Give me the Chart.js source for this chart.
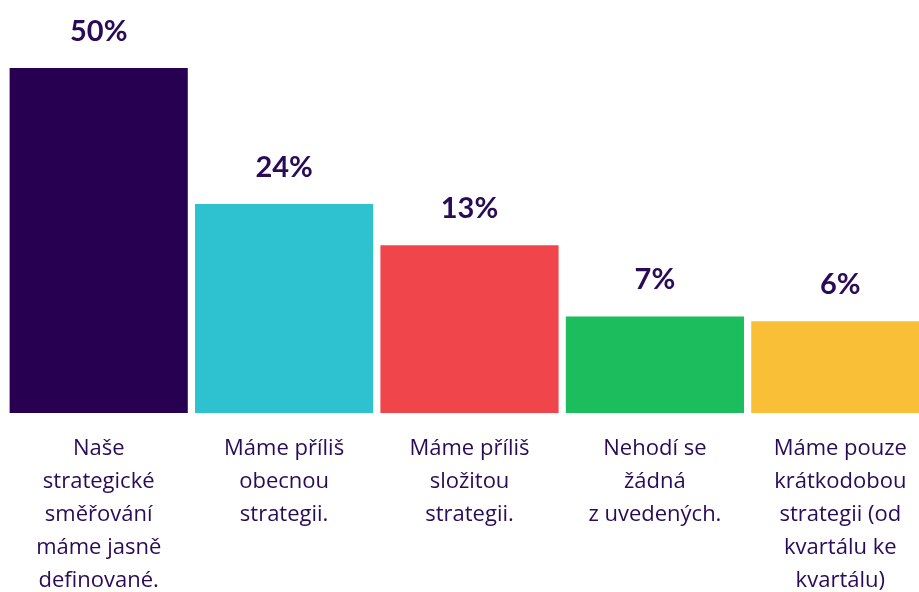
<!DOCTYPE html>
<html>
<head>
<meta charset="utf-8">
<script src="https://cdn.jsdelivr.net/npm/chart.js@4.4.1/dist/chart.umd.min.js"></script>
<style>
  html, body { margin: 0; padding: 0; background: #fff; overflow: hidden; }
  #wrap { width: 940px; height: 616px; }
</style>
</head>
<body>
<div id="wrap"><canvas id="barChart"></canvas></div>
<script>
// category labels (already broken into lines as in the picture)
const categories = [
  ['Naše', 'strategické', 'směřování', 'máme jasně', 'definované.'],
  ['Máme příliš', 'obecnou', 'strategii.'],
  ['Máme příliš', 'složitou', 'strategii.'],
  ['Nehodí se', 'žádná', 'z uvedených.'],
  ['Máme pouze', 'krátkodobou', 'strategii (od', 'kvartálu ke', 'kvartálu)']
];
// percentages printed above the bars
const shares = [50, 24, 13, 7, 6];
// bar lengths as drawn in the picture (not to scale with the printed shares)
const barLengths = [50, 30.3, 24.3, 14.0, 13.3];
const barColors = ['#280052', '#2ec1cf', '#f0464b', '#1bbd5c', '#f9bf37'];

const textColor = '#2a0b57';

// write the percentage above each bar
const topLabels = {
  id: 'topLabels',
  afterDatasetsDraw(chart) {
    const ctx = chart.ctx;
    const meta = chart.getDatasetMeta(0);
    ctx.save();
    ctx.font = 'bold 29px Lato';
    ctx.fillStyle = textColor;
    ctx.textAlign = 'center';
    ctx.textBaseline = 'alphabetic';
    meta.data.forEach((bar, i) => {
      ctx.fillText(shares[i] + '%', bar.x, bar.y - 27);
    });
    ctx.restore();
  }
};

const ctx = document.getElementById('barChart').getContext('2d');
new Chart(ctx, {
  type: 'bar',
  data: {
    labels: categories,
    datasets: [{
      data: barLengths,
      backgroundColor: barColors,
      borderWidth: 0,
      barPercentage: 0.961,
      categoryPercentage: 1
    }]
  },
  options: {
    responsive: true,
    maintainAspectRatio: false,
    animation: false,
    layout: { padding: { left: 6, right: 7, top: 68, bottom: 0 } },
    plugins: {
      legend: { display: false },
      tooltip: { enabled: false }
    },
    scales: {
      x: {
        grid: { display: false, drawTicks: false },
        border: { display: false },
        ticks: {
          color: textColor,
          font: { family: 'Open Sans', size: 22, lineHeight: 1.5 },
          padding: 19,
          maxRotation: 0,
          autoSkip: false
        }
      },
      y: {
        display: false,
        min: 0,
        max: 50
      }
    }
  },
  plugins: [topLabels]
});
</script>
</body>
</html>
